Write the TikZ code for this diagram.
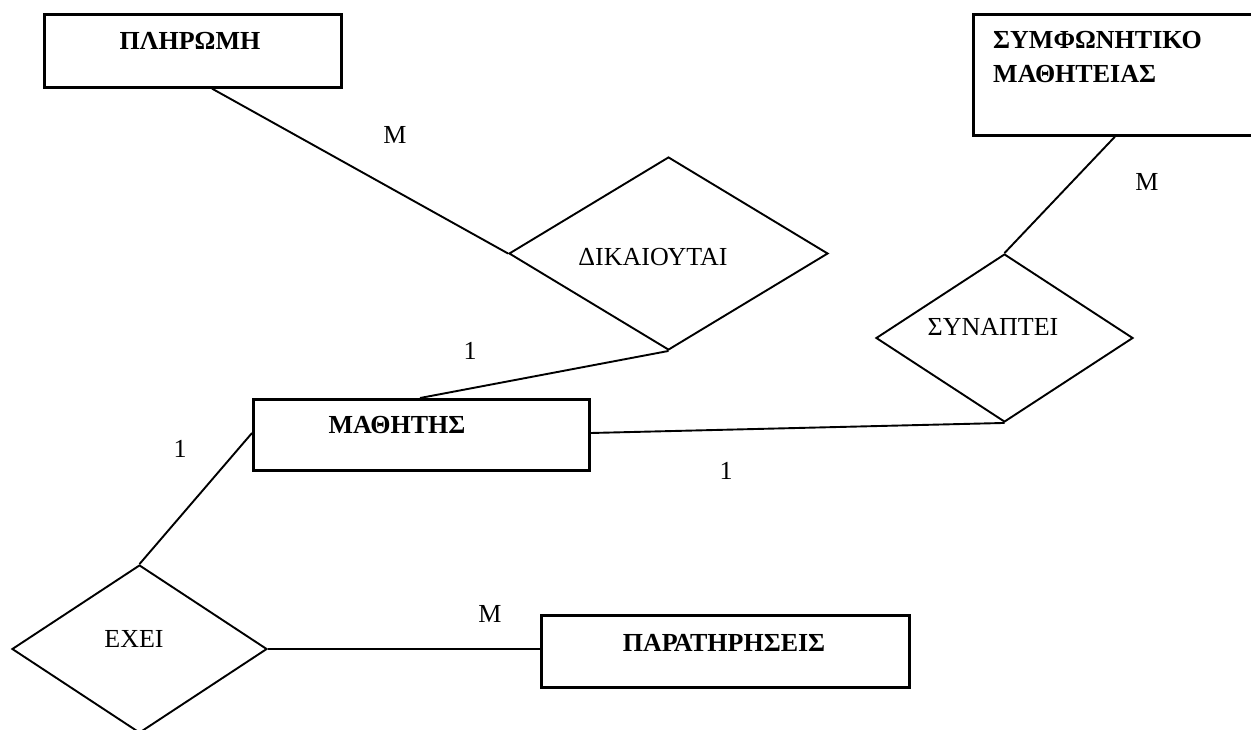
\documentclass[tikz,border=0pt]{standalone}
\usepackage{fontspec}
\setmainfont{Liberation Serif}
\usetikzlibrary{shapes.geometric}
\begin{document}
\begin{tikzpicture}[x=1pt,y=-1pt,
  entity/.style={draw,line width=2.6pt,rectangle,inner sep=0pt,anchor=north west},
  relation/.style={draw,line width=1.9pt,diamond,inner sep=0pt,aspect=1.6},
  conn/.style={line width=1.9pt},
  txt/.style={font=\fontsize{26}{31}\selectfont,inner sep=0pt},
  btxt/.style={font=\fontsize{26}{31}\selectfont\bfseries,inner sep=0pt},
  card/.style={font=\fontsize{26}{31}\selectfont,inner sep=0pt}]
\useasboundingbox (0,0) rectangle (1251,729);
% entities
\node[entity,minimum width=297pt,minimum height=73pt] (ple) at (43,13) {};
\node[entity,minimum width=300pt,minimum height=121pt] (symf) at (972,13) {};
\node[entity,minimum width=336pt,minimum height=71pt] (math) at (252,398) {};
\node[entity,minimum width=368pt,minimum height=72pt] (par) at (540,614) {};
\node[btxt] (tple) at (190,41) {ΠΛΗΡΩΜΗ};
\node[btxt,anchor=base west] (tsymf1) at (993,48) {ΣΥΜΦΩΝΗΤΙΚΟ};
\node[btxt,anchor=base west] (tsymf2) at (993,82) {ΜΑΘΗΤΕΙΑΣ};
\node[btxt] (tmath) at (397,425) {ΜΑΘΗΤΗΣ};
\node[btxt] (tpar) at (724,643) {ΠΑΡΑΤΗΡΗΣΕΙΣ};
% relationships
\node[relation,minimum width=319pt,minimum height=193pt] (dik) at (668.5,253.5) {};
\node[relation,minimum width=257pt,minimum height=168pt] (syn) at (1004.5,338) {};
\node[relation,minimum width=255pt,minimum height=168pt] (exei) at (139.5,649) {};
\node[txt] (tdik) at (653,257) {ΔΙΚΑΙΟΥΤΑΙ};
\node[txt] (tsyn) at (993,327) {ΣΥΝΑΠΤΕΙ};
\node[txt] (texei) at (134,639) {ΕΧΕΙ};
% connectors
\draw[conn] ([xshift=169pt]ple.south west) -- (dik.west);
\draw[conn] (dik.south) -- ([xshift=168pt]math.north west);
\draw[conn] ([xshift=143pt]symf.south west) -- (syn.north);
\draw[conn] ([yshift=-35pt]math.north east) -- (syn.south);
\draw[conn] ([yshift=-35pt]math.north west) -- (exei.north);
\draw[conn] (exei.east) -- ([yshift=-35pt]par.north west);
% cardinalities
\node[card] (c1) at (395,135) {Μ};
\node[card] (c2) at (1147,182) {Μ};
\node[card] (c3) at (470,351) {1};
\node[card] (c4) at (180,449) {1};
\node[card] (c5) at (726,471) {1};
\node[card] (c6) at (490,614) {Μ};
\end{tikzpicture}
\end{document}
